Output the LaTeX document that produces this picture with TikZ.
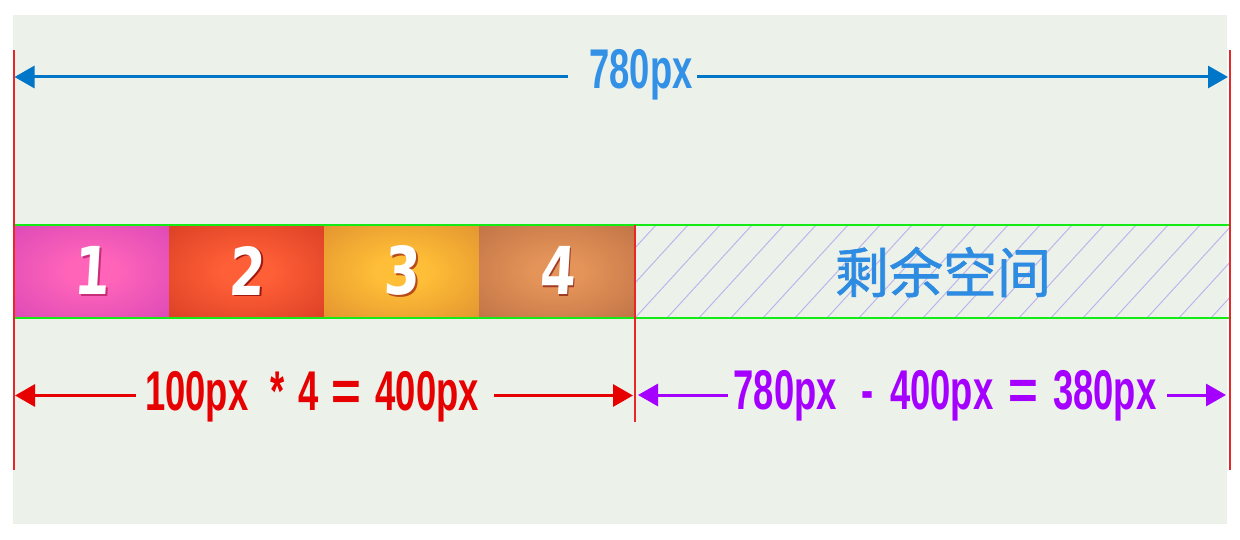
\documentclass[tikz,border=0pt]{standalone}
\usepackage{fontspec}
\usepackage{graphicx}
\usetikzlibrary{arrows.meta}
\newfontfamily\dinfamily[FakeStretch=0.65]{Liberation Sans}
\newfontfamily\digfamily[FakeStretch=0.78,FakeSlant=0.06]{DejaVu Sans}
\newfontfamily\cjkfamily[FakeBold=1.2]{Noto Sans CJK SC}
\newcommand\dimfnt{\dinfamily\bfseries\fontsize{56}{60}\selectfont}
\newcommand\digfnt{\digfamily\bfseries\fontsize{66}{70}\selectfont}
\newcommand\cjkfnt{\cjkfamily\fontsize{54}{60}\selectfont}
\newcommand\wideeq{\scalebox{1.4}[1]{=}}
\newcommand\shadowed[3]{\rlap{\hspace{#2}\raisebox{-#2}{\color{#1}#3}}#3}
\definecolor{bgc}{RGB}{236,241,234}
\definecolor{redl}{RGB}{232,40,40}
\definecolor{bluea}{RGB}{0,118,200}
\definecolor{bluet}{RGB}{50,145,230}
\definecolor{reda}{RGB}{230,0,0}
\definecolor{purp}{RGB}{165,0,255}
\definecolor{greenl}{RGB}{20,235,20}
\definecolor{hatchc}{RGB}{190,182,235}
\definecolor{cjkc}{RGB}{45,140,225}
\definecolor{cain}{RGB}{255,100,185}\definecolor{caout}{RGB}{188,48,182}
\definecolor{cbin}{RGB}{255,95,55}\definecolor{cbout}{RGB}{185,35,20}
\definecolor{ccin}{RGB}{255,190,55}\definecolor{ccout}{RGB}{200,110,40}
\definecolor{cdin}{RGB}{228,148,88}\definecolor{cdout}{RGB}{160,85,55}
\definecolor{sha}{RGB}{200,45,120}
\definecolor{shb}{RGB}{160,25,15}
\definecolor{shc}{RGB}{185,75,25}
\definecolor{shd}{RGB}{160,60,35}
\pgfdeclareradialshading[cain,caout]{sha}{\pgfpoint{0bp}{0bp}}{color(0bp)=(cain); color(8bp)=(cain); color(62bp)=(caout); color(75bp)=(caout)}
\pgfdeclareradialshading[cbin,cbout]{shb}{\pgfpoint{0bp}{0bp}}{color(0bp)=(cbin); color(8bp)=(cbin); color(62bp)=(cbout); color(75bp)=(cbout)}
\pgfdeclareradialshading[ccin,ccout]{shc}{\pgfpoint{0bp}{0bp}}{color(0bp)=(ccin); color(8bp)=(ccin); color(62bp)=(ccout); color(75bp)=(ccout)}
\pgfdeclareradialshading[cdin,cdout]{shd}{\pgfpoint{0bp}{0bp}}{color(0bp)=(cdin); color(8bp)=(cdin); color(62bp)=(cdout); color(75bp)=(cdout)}
\begin{document}
\begin{tikzpicture}[x=1pt,y=-1pt,
  arr/.style={line width=3pt,-{Triangle[length=20pt,width=22pt]}},
  dimlabel/.style={font=\dimfnt, anchor=base, inner sep=0pt},
  cellbox/.style={minimum width=155pt, minimum height=93pt, inner sep=0pt, shade},
  digit/.style={font=\digfnt, text=white, inner sep=0pt},
  vline/.style={draw=redl, line width=2pt},
  gline/.style={draw=greenl, line width=2pt},
]
\useasboundingbox (0,0) rectangle (1240,540);
\fill[white] (0,0) rectangle (1240,540);
\fill[bgc] (13,15) rectangle (1227,524);

% cells
\node[cellbox, shading=sha] (c1) at (91.5,271.5) {};
\node[cellbox, shading=shb] (c2) at (246.5,271.5) {};
\node[cellbox, shading=shc] (c3) at (401.5,271.5) {};
\node[cellbox, shading=shd] (c4) at (557,271.5) {};

% hatched remaining space
\begin{scope}
\clip (635,225) rectangle (1229,318);
\foreach \i in {-4,...,20}{
  \draw[hatchc, line width=1pt] ({635+32*\i},318) -- ({635+32*\i+85},225);
}
\end{scope}

% digits with shadow
\node[digit] (d1) at (c1) {\shadowed{sha}{1.5pt}{1}};
\node[digit] (d2) at (c2) {\shadowed{shb}{1.5pt}{2}};
\node[digit] (d3) at (c3) {\shadowed{shc}{1.5pt}{3}};
\node[digit] (d4) at (c4) {\shadowed{shd}{1.5pt}{4}};

% remaining-space text
\node[font=\cjkfnt, text=cjkc, inner sep=0pt] (rest) at (943,272) {剩余空间};

% green bar lines
\draw[gline] (14,225) -- (1229,225);
\draw[gline] (14,318) -- (1229,318);

% red guide lines
\draw[vline] (13.5,50) -- (13.5,470);
\draw[vline] (1229.5,50) -- (1229.5,470);
\draw[draw=redl, line width=1.5pt] (635,225) -- (635,422);

% top dimension
\node[dimlabel, text=bluet] (ttop) at (641,88.5) {780px};
\coordinate (tl) at (14.5,77);
\coordinate (tr) at (1228,77);
\coordinate (tla) at (568,77);
\coordinate (tra) at (697,77);
\draw[arr, bluea] (tla) -- (tl);
\draw[arr, bluea] (tra) -- (tr);

% red dimension
\node[dimlabel, text=reda] (tred) at (312,410.5) {100px\hspace{22pt}*\hspace{14pt}4\hspace{13pt}\wideeq\hspace{14pt}400px};
\coordinate (rl) at (15,395.5);
\coordinate (rla) at (136,395.5);
\coordinate (rra) at (494,395.5);
\coordinate (rr) at (633,395.5);
\draw[arr, reda] (rla) -- (rl);
\draw[arr, reda] (rra) -- (rr);

% purple dimension
\node[dimlabel, text=purp] (tpur) at (945,409.5) {780px\hspace{25pt}-\hspace{16pt}400px\hspace{15pt}\wideeq\hspace{15pt}380px};
\coordinate (pl) at (638,395);
\coordinate (pla) at (728,395);
\coordinate (pra) at (1167,395);
\coordinate (pr) at (1226,395);
\draw[arr, purp] (pla) -- (pl);
\draw[arr, purp] (pra) -- (pr);
\end{tikzpicture}
\end{document}
